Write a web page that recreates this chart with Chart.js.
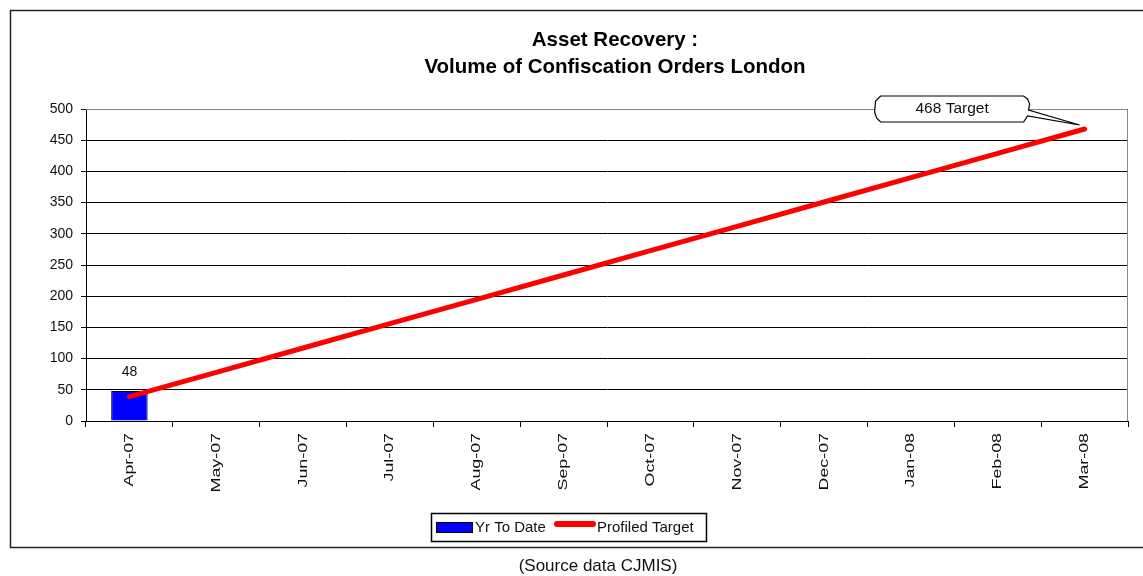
<!DOCTYPE html>
<html>
<head>
<meta charset="utf-8">
<script src="https://cdn.jsdelivr.net/npm/chart.js@4.4.1/dist/chart.umd.min.js"></script>
<style>
html,body{margin:0;padding:0;background:#fff;}
#wrap{position:relative;width:1143px;height:576px;}
</style>
</head>
<body>
<div id="wrap"><canvas id="c" width="1143" height="576"></canvas></div>
<script>
const titleLines = ['Asset Recovery :', 'Volume of Confiscation Orders London'];
const months = ['Apr-07','May-07','Jun-07','Jul-07','Aug-07','Sep-07','Oct-07','Nov-07','Dec-07','Jan-08','Feb-08','Mar-08'];
const yrToDate = [48, null, null, null, null, null, null, null, null, null, null, null];
const profiledTarget = [39, 78, 117, 156, 195, 234, 273, 312, 351, 390, 429, 468];
const seriesNames = ['Yr To Date', 'Profiled Target'];
const targetLabel = '468 Target';
const sourceNote = '(Source data CJMIS)';
const yTicks = [0, 50, 100, 150, 200, 250, 300, 350, 400, 450, 500];

const FONT = '"Liberation Sans", Arial, sans-serif';

const decor = {
  id: 'decor',
  beforeDraw(chart) {
    const ctx = chart.ctx;
    ctx.save();
    ctx.fillStyle = '#fff';
    ctx.fillRect(0, 0, chart.width, chart.height);
    ctx.restore();
  },
  afterDraw(chart) {
    const ctx = chart.ctx;
    const area = chart.chartArea;
    ctx.save();
    // outer frame
    ctx.strokeStyle = '#222';
    ctx.lineWidth = 1.5;
    ctx.beginPath();
    ctx.moveTo(1160, 10.5);
    ctx.lineTo(10.5, 10.5);
    ctx.lineTo(10.5, 547.5);
    ctx.lineTo(1160, 547.5);
    ctx.stroke();

    // plot border (top/right gray)
    ctx.strokeStyle = '#888';
    ctx.lineWidth = 1;
    ctx.beginPath();
    ctx.moveTo(area.left, area.top + 0.5);
    ctx.lineTo(area.right - 0.5, area.top + 0.5);
    ctx.lineTo(area.right - 0.5, area.bottom);
    ctx.stroke();

    // x tick labels (rotated, stretched along their length like the source)
    const xs = chart.scales.x;
    ctx.fillStyle = '#111';
    ctx.font = '13px ' + FONT;
    ctx.textAlign = 'right';
    ctx.textBaseline = 'middle';
    months.forEach((m, i) => {
      const x = xs.getPixelForTick(i);
      ctx.save();
      ctx.translate(x, 433);
      ctx.rotate(-Math.PI / 2);
      ctx.scale(1.37, 1);
      ctx.fillText(m, 0, 0);
      ctx.restore();
    });

    // title
    ctx.fillStyle = '#000';
    ctx.font = 'bold 20.5px ' + FONT;
    ctx.textAlign = 'center';
    ctx.textBaseline = 'middle';
    ctx.fillText(titleLines[0], 615, 40);
    ctx.fillText(titleLines[1], 615, 67);

    // data label over bar
    const barMeta = chart.getDatasetMeta(0);
    ctx.font = '14px ' + FONT;
    ctx.fillStyle = '#111';
    barMeta.data.forEach((el, i) => {
      if (yrToDate[i] == null) return;
      ctx.fillText(String(yrToDate[i]), el.x, el.y - 19);
    });

    // callout for target
    const lineMeta = chart.getDatasetMeta(1);
    const last = lineMeta.data[lineMeta.data.length - 1];
    const px = last.x - 5, py = last.y - 4;
    const bx1 = px - 205, bx2 = px - 50, by1 = 96, by2 = 122;
    ctx.strokeStyle = '#000';
    ctx.lineWidth = 1.2;
    ctx.fillStyle = '#fff';
    ctx.beginPath();
    ctx.moveTo(bx1 + 6, by1);
    ctx.lineTo(bx2 - 6, by1);
    ctx.lineTo(bx2 - 2, by1 + 3);
    ctx.lineTo(bx2, by1 + 8);
    ctx.lineTo(bx2 - 1, by1 + 14);
    ctx.lineTo(px, py);
    ctx.lineTo(bx2 - 2, by2 - 6);
    ctx.lineTo(bx2 - 6, by2);
    ctx.lineTo(bx1 + 6, by2);
    ctx.lineTo(bx1 + 2, by2 - 4);
    ctx.lineTo(bx1, by2 - 10);
    ctx.lineTo(bx1 + 1, by1 + 5);
    ctx.closePath();
    ctx.fill();
    ctx.stroke();
    ctx.fillStyle = '#111';
    ctx.font = '15.5px ' + FONT;
    ctx.textAlign = 'center';
    ctx.fillText(targetLabel, (bx1 + bx2) / 2, (by1 + by2) / 2);

    // legend
    const lx = 431, ly = 513, lw = 275, lh = 28;
    ctx.strokeStyle = '#000';
    ctx.lineWidth = 1.5;
    ctx.strokeRect(lx + 0.5, ly + 0.5, lw, lh);
    ctx.fillStyle = '#0000FF';
    ctx.fillRect(436, 522, 36, 10);
    ctx.lineWidth = 1;
    ctx.strokeRect(436.5, 522.5, 36, 10);
    ctx.fillStyle = '#111';
    ctx.font = '15px ' + FONT;
    ctx.textAlign = 'left';
    ctx.fillText(seriesNames[0], 475, 528);
    ctx.strokeStyle = '#FF0000';
    ctx.lineWidth = 6;
    ctx.lineCap = 'round';
    ctx.beginPath();
    ctx.moveTo(557, 524);
    ctx.lineTo(593, 524);
    ctx.stroke();
    ctx.fillText(seriesNames[1], 597, 528);

    // source note
    ctx.font = '17px ' + FONT;
    ctx.textAlign = 'center';
    ctx.fillText(sourceNote, 598, 566);
    ctx.restore();
  }
};

new Chart(document.getElementById('c'), {
  data: {
    labels: months,
    datasets: [
      {
        type: 'bar',
        label: seriesNames[0],
        data: yrToDate,
        backgroundColor: '#0000FF',
        borderColor: '#000',
        borderWidth: 1,
        categoryPercentage: 1,
        barPercentage: 0.42,
        order: 2
      },
      {
        type: 'line',
        label: seriesNames[1],
        data: profiledTarget,
        borderColor: '#FF0000',
        borderWidth: 5,
        pointRadius: 0,
        tension: 0,
        borderCapStyle: 'round',
        order: 1
      }
    ]
  },
  options: {
    responsive: false,
    animation: false,
    devicePixelRatio: 1,
    layout: { padding: { top: 109, right: 15, left: 0, bottom: 0 } },
    plugins: { legend: { display: false }, title: { display: false }, tooltip: { enabled: false } },
    scales: {
      x: {
        offset: true,
        grid: { offset: true, drawOnChartArea: false, drawTicks: true, tickLength: 6, color: '#000', lineWidth: 1 },
        border: { color: '#000', width: 1 },
        ticks: { display: false, autoSkip: false },
        afterFit(s) { s.height = 576 - 421; }
      },
      y: {
        min: 0, max: 500,
        afterBuildTicks(s) { s.ticks = yTicks.map(v => ({ value: v })); },
        grid: { color: '#000', lineWidth: 1, tickLength: 5, drawTicks: true },
        border: { color: '#000', width: 1 },
        ticks: { color: '#111', font: { family: FONT, size: 14 }, padding: 8 },
        afterFit(s) { s.width = 86; }
      }
    }
  },
  plugins: [decor]
});
</script>
</body>
</html>
